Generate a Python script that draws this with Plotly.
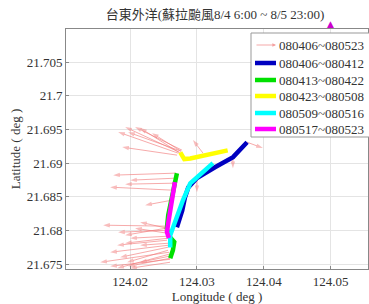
import plotly.graph_objects as go

# ---------------- data ----------------
title_text = "台東外洋(蘇拉颱風8/4 6:00 ~ 8/5 23:00)"

x_tick_vals = [124.02, 124.03, 124.04, 124.05]
x_tick_text = ["124.02", "124.03", "124.04", "124.05"]
y_tick_vals = [21.675, 21.68, 21.685, 21.69, 21.695, 21.70, 21.705]
y_tick_text = ["21.675", "21.68", "21.685", "21.69", "21.695", "21.7", "21.705"]

# trajectory segments
blue_lon = [124.0375, 124.0354, 124.0327, 124.0300, 124.0287, 124.0282, 124.0278, 124.0270]
blue_lat = [21.6931, 21.6909, 21.6894, 21.6878, 21.6864, 21.6849, 21.6830, 21.6805]

green_lon = [124.0270, 124.0266, 124.0261, 124.0257, 124.0255, 124.0258, 124.0266, 124.0264, 124.0260]
green_lat = [21.6885, 21.6867, 21.6845, 21.6823, 21.6803, 21.6792, 21.6783, 21.6771, 21.6759]

yellow_lon = [124.0275, 124.0281, 124.0290, 124.0312, 124.0346]
yellow_lat = [21.6916, 21.6906, 21.6907, 21.6912, 21.6919]

cyan_lon = [124.0324, 124.0307, 124.0290, 124.0279, 124.0272, 124.0264, 124.0260, 124.0260]
cyan_lat = [21.6900, 21.6885, 21.6870, 21.6845, 21.6826, 21.6805, 21.6793, 21.6775]

magenta_lon = [124.0267, 124.0264, 124.0261, 124.0257, 124.0255, 124.0258]
magenta_lat = [21.6872, 21.6850, 21.6830, 21.6811, 21.6798, 21.6789]

# current vectors (start position, scaled displacement)
arrow_lon = [124.02732, 124.02747, 124.02717, 124.02702, 124.02761, 124.02776,
             124.02687, 124.02672, 124.02642, 124.02627,
             124.02552, 124.02552, 124.02552, 124.02552, 124.02567, 124.02567,
             124.02567, 124.02582, 124.02582, 124.02597, 124.02597, 124.02567,
             124.02552, 124.02537,
             124.03747, 124.03090, 124.03538, 124.03000,
             124.02567, 124.02582, 124.02597, 124.02552, 124.02761, 124.02657]
arrow_lat = [21.69164, 21.69149, 21.69149, 21.69119, 21.69178, 21.69193,
             21.68852, 21.68777, 21.68599, 21.68451,
             21.68065, 21.68005, 21.67916, 21.67857, 21.67812, 21.67753,
             21.67708, 21.67649, 21.67619, 21.67574, 21.67530, 21.67782,
             21.67961, 21.68035,
             21.69312, 21.69149, 21.69075, 21.68748,
             21.67887, 21.67678, 21.67589, 21.68035, 21.69178, 21.68703]
arrow_u = [-0.00806, -0.00597, -0.00896, -0.00821, -0.00433, -0.00702,
           -0.00941, -0.00672, -0.00941, -0.00403,
           -0.00956, -0.00732, -0.00552, -0.00747, -0.00418, -0.00717,
           -0.00612, -0.00776, -0.00433, -0.00896, -0.00597, -0.00866,
           -0.00478, -0.00612,
           0.00239, -0.00149, 0.00000, 0.00000,
           -0.00642, -0.01030, -0.00627, -0.00403, -0.00791, -0.00732]
arrow_v = [0.00371, 0.00371, 0.00312, 0.00119, 0.00267, 0.00342,
           -0.00030, -0.00030, 0.00045, -0.00074,
           0.00015, -0.00030, -0.00030, -0.00074, -0.00030, -0.00149,
           -0.00178, -0.00208, -0.00089, -0.00104, -0.00089, -0.00104,
           0.00074, -0.00104,
           -0.00089, 0.00193, -0.00149, -0.00178,
           -0.00074, -0.00149, -0.00119, 0.00089, 0.00282, -0.00015]

station_lon = [124.05]
station_lat = [21.7106]

series_names = ["080406~080523", "080406~080412", "080413~080422",
                "080423~080508", "080509~080516", "080517~080523"]
series_colors = ["rgba(240,120,120,0.7)", "#0000C0", "#00E000", "#FFFF00", "#00FFFF", "#FF00FF"]

# ---------------- figure ----------------
FONT = "Liberation Serif, Times New Roman, Noto Sans CJK TC, serif"
TXT = "#333333"
L, R, T, B, W, H = 66, 1, 29, 35, 369, 304
PW, PH = W - L - R, H - T - B
X_RANGE = [124.0104, 124.0556]
Y_RANGE = [21.6743, 21.7099]

def px_x(px):
    return (px - L) / PW

def px_y(py):
    return (H - B - py) / PH

fig = go.Figure()

arrow_color = series_colors[0]
ax_, ay_, sz = [], [], []
for lo, la, u, v in zip(arrow_lon, arrow_lat, arrow_u, arrow_v):
    ax_ += [lo, lo + u, None]
    ay_ += [la, la + v, None]
    sz += [0, 7, 0]
fig.add_trace(go.Scatter(
    x=ax_, y=ay_, mode="lines+markers", name=series_names[0],
    line=dict(color=arrow_color, width=0.9),
    marker=dict(symbol="arrow", angleref="previous", size=sz, color=arrow_color,
                line=dict(width=0)),
    hoverinfo="skip", showlegend=False))

track_lon = [blue_lon, green_lon, yellow_lon, cyan_lon, magenta_lon]
track_lat = [blue_lat, green_lat, yellow_lat, cyan_lat, magenta_lat]
for lon, lat, col, nm in zip(track_lon, track_lat, series_colors[1:], series_names[1:]):
    fig.add_trace(go.Scatter(x=lon, y=lat, mode="lines", name=nm, showlegend=False,
                             line=dict(color=col, width=4.5)))

annotations = []
# station marker sits just above the top of the axes -> place via the y-axis mapping
for slon, slat in zip(station_lon, station_lat):
    annotations.append(dict(xref="x", yref="paper", x=slon,
                            y=(slat - Y_RANGE[0]) / (Y_RANGE[1] - Y_RANGE[0]),
                            text="▲", showarrow=False, xanchor="center", yanchor="middle",
                            font=dict(family="DejaVu Sans", size=9, color="#CC00CC")))

# ---- hand-built legend (box, samples, labels) ----
shapes = [dict(type="rect", xref="paper", yref="paper",
               x0=px_x(251), x1=px_x(380), y0=px_y(137), y1=px_y(33),
               line=dict(color="#999999", width=1), fillcolor="white", layer="above")]
row_y = [45, 63, 80, 96, 113, 129]
for i, (nm, col) in enumerate(zip(series_names, series_colors)):
    yy = px_y(row_y[i])
    if i == 0:
        annotations.append(dict(xref="paper", yref="paper", x=px_x(276), y=yy,
                                ax=-21, ay=0, axref="pixel", ayref="pixel",
                                showarrow=True, arrowhead=2, arrowsize=0.8,
                                arrowwidth=0.9, arrowcolor=col, text=""))
    else:
        shapes.append(dict(type="line", xref="paper", yref="paper",
                           x0=px_x(255), x1=px_x(276), y0=yy, y1=yy,
                           line=dict(color=col, width=4.5), layer="above"))
    annotations.append(dict(xref="paper", yref="paper", x=px_x(277), y=yy,
                            xanchor="left", yanchor="middle", showarrow=False,
                            text=nm, font=dict(family=FONT, size=13, color=TXT)))

axis_common = dict(showgrid=True, gridcolor="#e4e4e4", gridwidth=1,
                   showline=True, linecolor="#888888", linewidth=1, mirror=True,
                   ticks="inside", ticklen=3, tickcolor="#888888", automargin=False,
                   zeroline=False, tickfont=dict(family=FONT, size=13, color=TXT))

fig.update_layout(
    width=W, height=H,
    margin=dict(l=L, r=R, t=T, b=B),
    paper_bgcolor="white", plot_bgcolor="white",
    title=dict(text=title_text, x=215 / W, xanchor="center",
               y=1 - 14 / H, yanchor="middle",
               font=dict(family=FONT, size=13, color=TXT)),
    xaxis=dict(range=X_RANGE, tickvals=x_tick_vals, ticktext=x_tick_text,
               title=dict(text="Longitude ( deg )", standoff=0,
                          font=dict(family=FONT, size=13, color=TXT)),
               **axis_common),
    yaxis=dict(range=Y_RANGE, tickvals=y_tick_vals, ticktext=y_tick_text,
               title=dict(text="Latitude ( deg )", standoff=3,
                          font=dict(family=FONT, size=13, color=TXT)),
               **axis_common),
    shapes=shapes,
    annotations=annotations,
    showlegend=False,
)

fig.write_html("out.html", config={"displayModeBar": False},
               post_script="document.body.style.margin='0';document.body.style.overflow='hidden';")
